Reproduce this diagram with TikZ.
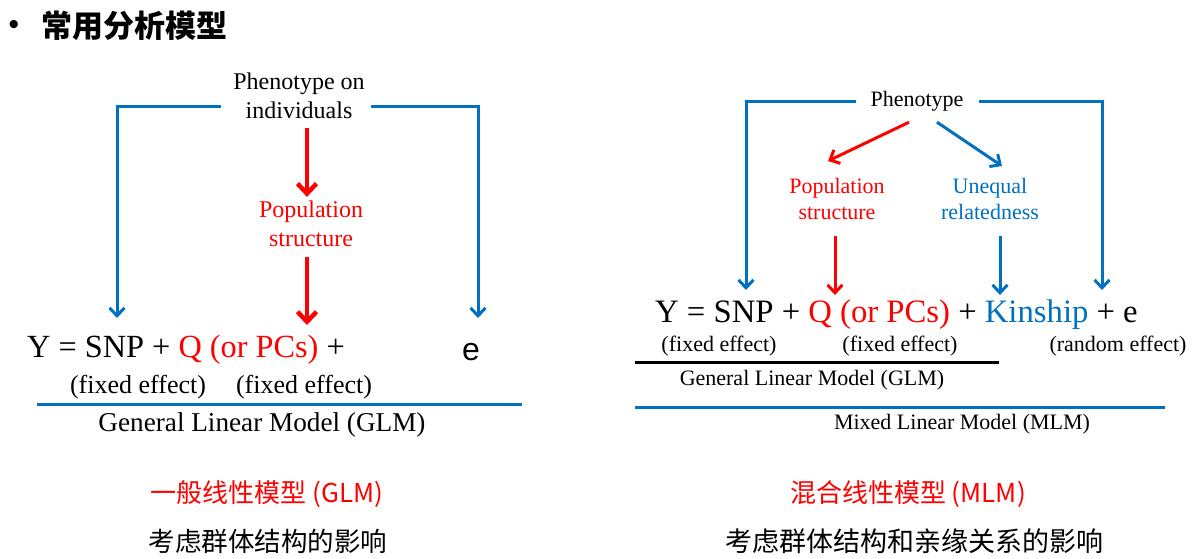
\documentclass[tikz,border=0pt]{standalone}
\usepackage{fontspec}
\setmainfont{Liberation Serif}
\newfontfamily\sansfont{Liberation Sans}
\newfontfamily\cjk{Noto Sans CJK SC}
\usetikzlibrary{arrows.meta}
\definecolor{msblue}{RGB}{0,112,192}
\newcommand{\fsz}[2]{\fontsize{#1}{#2}\selectfont}

\begin{document}
\begin{tikzpicture}[x=1pt,y=-1pt,
  every node/.style={inner sep=0pt,align=center},
  blueline/.style={draw=msblue,line width=3pt},
  bluearr/.style={blueline,-{Straight Barb[length=8pt,width=15pt]}},
  redarr/.style={draw=red,line width=4.5pt,-{Straight Barb[length=10pt,width=19pt]}},
  redthin/.style={draw=red,line width=3pt,-{Straight Barb[length=8pt,width=15pt]}}]
  \useasboundingbox (0,0) rectangle (1195,558);

  \node[font=\sansfont\fsz{30}{36}] (dot) at (14,27) {•};
  \node[font=\cjk\bfseries\fsz{31}{36},anchor=west] (title) at (41,26) {常用分析模型};

  % general linear model
  \node[font=\fsz{24}{29}] (phenoL) at (299,96) {Phenotype on\\individuals};
  \node[font=\fsz{24}{29},text=red] (popL) at (311,224) {Population\\structure};
  \node[font=\fsz{32.3}{38},anchor=west] (eqL) at (27,350) {Y = SNP + \textcolor{red}{Q (or PCs)} +};
  \node[font=\sansfont\fsz{32}{38}] (eL) at (471,352) {e};
  \node[font=\fsz{26}{30}] (fixL1) at (138,387) {(fixed effect)};
  \node[font=\fsz{26}{30}] (fixL2) at (304,387) {(fixed effect)};
  \node[font=\fsz{27.2}{30}] (glmL) at (262,425) {General Linear Model (GLM)};
  \coordinate (ruleLa) at (37,404);
  \coordinate (ruleLb) at (522,404);
  \coordinate (tipL1) at (117,318);
  \coordinate (tipL2) at (478,318);
  \coordinate (tipL3) at (307,325);

  \draw[bluearr] ([xshift=-12pt,yshift=-10pt]phenoL.west) -| (tipL1);
  \draw[bluearr] ([xshift=6pt,yshift=-10pt]phenoL.east) -| (tipL2);
  \draw[redarr,shorten <=9pt,shorten >=4pt] ([xshift=-4pt]popL.north |- phenoL.south) -- ([xshift=-4pt]popL.north);
  \draw[redarr,shorten <=10pt] ([xshift=-4pt]popL.south) -- (tipL3);
  \draw[blueline] (ruleLa) -- (ruleLb);

  % mixed linear model
  \node[font=\fsz{22}{26}] (phenoR) at (917,101) {Phenotype};
  \node[font=\fsz{22}{26},text=red] (popR) at (837,199) {Population\\structure};
  \node[font=\fsz{22}{26},text=msblue] (uneqR) at (990,199) {Unequal\\relatedness};
  \node[font=\fsz{32.7}{38},anchor=west] (eqR) at (655,315) {Y = SNP + \textcolor{red}{Q (or PCs)} + \textcolor{msblue}{Kinship} + e};
  \node[font=\fsz{22}{26}] (fixR1) at (719,346) {(fixed effect)};
  \node[font=\fsz{22}{26}] (fixR2) at (900,346) {(fixed effect)};
  \node[font=\fsz{22}{26}] (randR) at (1118,346) {(random effect)};
  \node[font=\fsz{22}{26}] (glmR) at (812,380) {General Linear Model (GLM)};
  \node[font=\fsz{22}{26}] (mlmR) at (962,424) {Mixed Linear Model (MLM)};
  \coordinate (ruleRa) at (635,362);
  \coordinate (ruleRb) at (999,362);
  \coordinate (ruleRc) at (635,407);
  \coordinate (ruleRd) at (1165,407);
  \coordinate (tipR1) at (746,290);
  \coordinate (tipR2) at (835,295);
  \coordinate (tipR3) at (1000,295);
  \coordinate (tipR4) at (1102,290);
  \coordinate (tipR5) at (828,161);
  \coordinate (tipR6) at (1002,166);

  \draw[bluearr] ([xshift=-14pt]phenoR.west) -| (tipR1);
  \draw[bluearr] ([xshift=15pt]phenoR.east) -| (tipR4);
  \draw[redthin] ([xshift=-8pt,yshift=-11pt]phenoR.south) -- (tipR5);
  \draw[bluearr] ([xshift=20pt,yshift=-11pt]phenoR.south) -- (tipR6);
  \draw[redthin,shorten <=16pt] ([xshift=-2pt]popR.south) -- (tipR2);
  \draw[bluearr,shorten <=16pt] ([xshift=10pt]uneqR.south) -- (tipR3);
  \draw[line width=3pt] (ruleRa) -- (ruleRb);
  \draw[blueline] (ruleRc) -- (ruleRd);

  % chinese captions
  \node[font=\cjk\fsz{26}{30},text=red] (cnGLM) at (267,494) {一般线性模型 (GLM)};
  \node[font=\cjk\fsz{26.5}{30}] (cnGLMnote) at (268,541) {考虑群体结构的影响};
  \node[font=\cjk\fsz{26}{30},text=red] (cnMLM) at (908,494) {混合线性模型 (MLM)};
  \node[font=\cjk\fsz{27}{30}] (cnMLMnote) at (914,541) {考虑群体结构和亲缘关系的影响};
\end{tikzpicture}
\end{document}
